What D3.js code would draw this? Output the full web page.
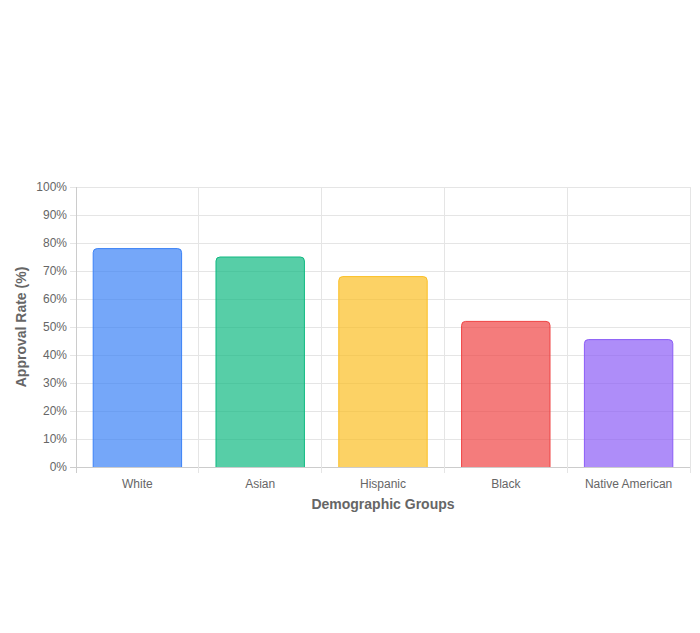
<!DOCTYPE html>
<html><head><meta charset="utf-8">
<script src="https://cdn.jsdelivr.net/npm/d3@7"></script>
<style>body{margin:0;background:#fff;font-family:"Helvetica Neue",Helvetica,Arial,"Liberation Sans",sans-serif;}</style>
</head><body><svg id="chart" width="700" height="633"></svg>
<script>
const groups = ['White', 'Asian', 'Hispanic', 'Black', 'Native American'];
const approvalRates = [78, 75, 68, 52, 45.5];
const fillColors = ['rgba(59,130,246,0.7)', 'rgba(16,185,129,0.7)', 'rgba(251,191,36,0.7)', 'rgba(239,68,68,0.7)', 'rgba(139,92,246,0.7)'];
const borderColors = ['#3b82f6', '#10b981', '#fbbf24', '#ef4444', '#8b5cf6'];
const yTicks = d3.range(0, 101, 10);

const svg = d3.select('#chart');
const plotLeft = 76, plotRight = 690, plotTop = 187, plotBottom = 467;

const x = d3.scaleBand().domain(groups).range([plotLeft, plotRight]);
const y = d3.scaleLinear().domain([0, 100]).range([plotBottom, plotTop]);

// grid
svg.append('g').selectAll('line').data(yTicks).join('line')
  .attr('x1', plotLeft - 6).attr('x2', plotRight).attr('y1', d => y(d)).attr('y2', d => y(d))
  .attr('stroke', d => d === 0 ? '#ccc' : '#e5e5e5').attr('shape-rendering', 'crispEdges');
svg.append('g').selectAll('line').data(groups.concat(['_end'])).join('line')
  .attr('x1', (d, i) => plotLeft + i * x.step()).attr('x2', (d, i) => plotLeft + i * x.step())
  .attr('y1', plotTop).attr('y2', plotBottom + 6)
  .attr('stroke', (d, i) => i === 0 ? '#ccc' : '#e5e5e5').attr('shape-rendering', 'crispEdges');

// y labels
svg.append('g').selectAll('text').data(yTicks).join('text')
  .attr('x', plotLeft - 9).attr('y', d => y(d)).attr('dy', '0.35em')
  .attr('text-anchor', 'end').attr('font-size', 12).attr('fill', '#666')
  .text(d => d + '%');

// bars
const bw = x.bandwidth() * 0.72, r = 4;
svg.append('g').selectAll('path').data(groups).join('path')
  .attr('d', (g, i) => {
    const x0 = x(g) + (x.bandwidth() - bw) / 2, x1 = x0 + bw, y0 = y(approvalRates[i]), yb = y(0);
    return `M${x0},${yb}V${y0 + r}Q${x0},${y0} ${x0 + r},${y0}H${x1 - r}Q${x1},${y0} ${x1},${y0 + r}V${yb}`;
  })
  .attr('fill', (g, i) => fillColors[i]).attr('stroke', (g, i) => borderColors[i]).attr('stroke-width', 1);

// x labels
svg.append('g').selectAll('text').data(groups).join('text')
  .attr('x', g => x(g) + x.bandwidth() / 2).attr('y', 488)
  .attr('text-anchor', 'middle').attr('font-size', 12).attr('fill', '#666').text(g => g);

svg.append('text').attr('x', (plotLeft + plotRight) / 2).attr('y', 509).attr('text-anchor', 'middle')
  .attr('font-size', 14).attr('font-weight', 'bold').attr('fill', '#666').text('Demographic Groups');
svg.append('text').attr('transform', `translate(26,${(plotTop + plotBottom) / 2}) rotate(-90)`).attr('text-anchor', 'middle')
  .attr('font-size', 14).attr('font-weight', 'bold').attr('fill', '#666').text('Approval Rate (%)');
</script></body></html>
